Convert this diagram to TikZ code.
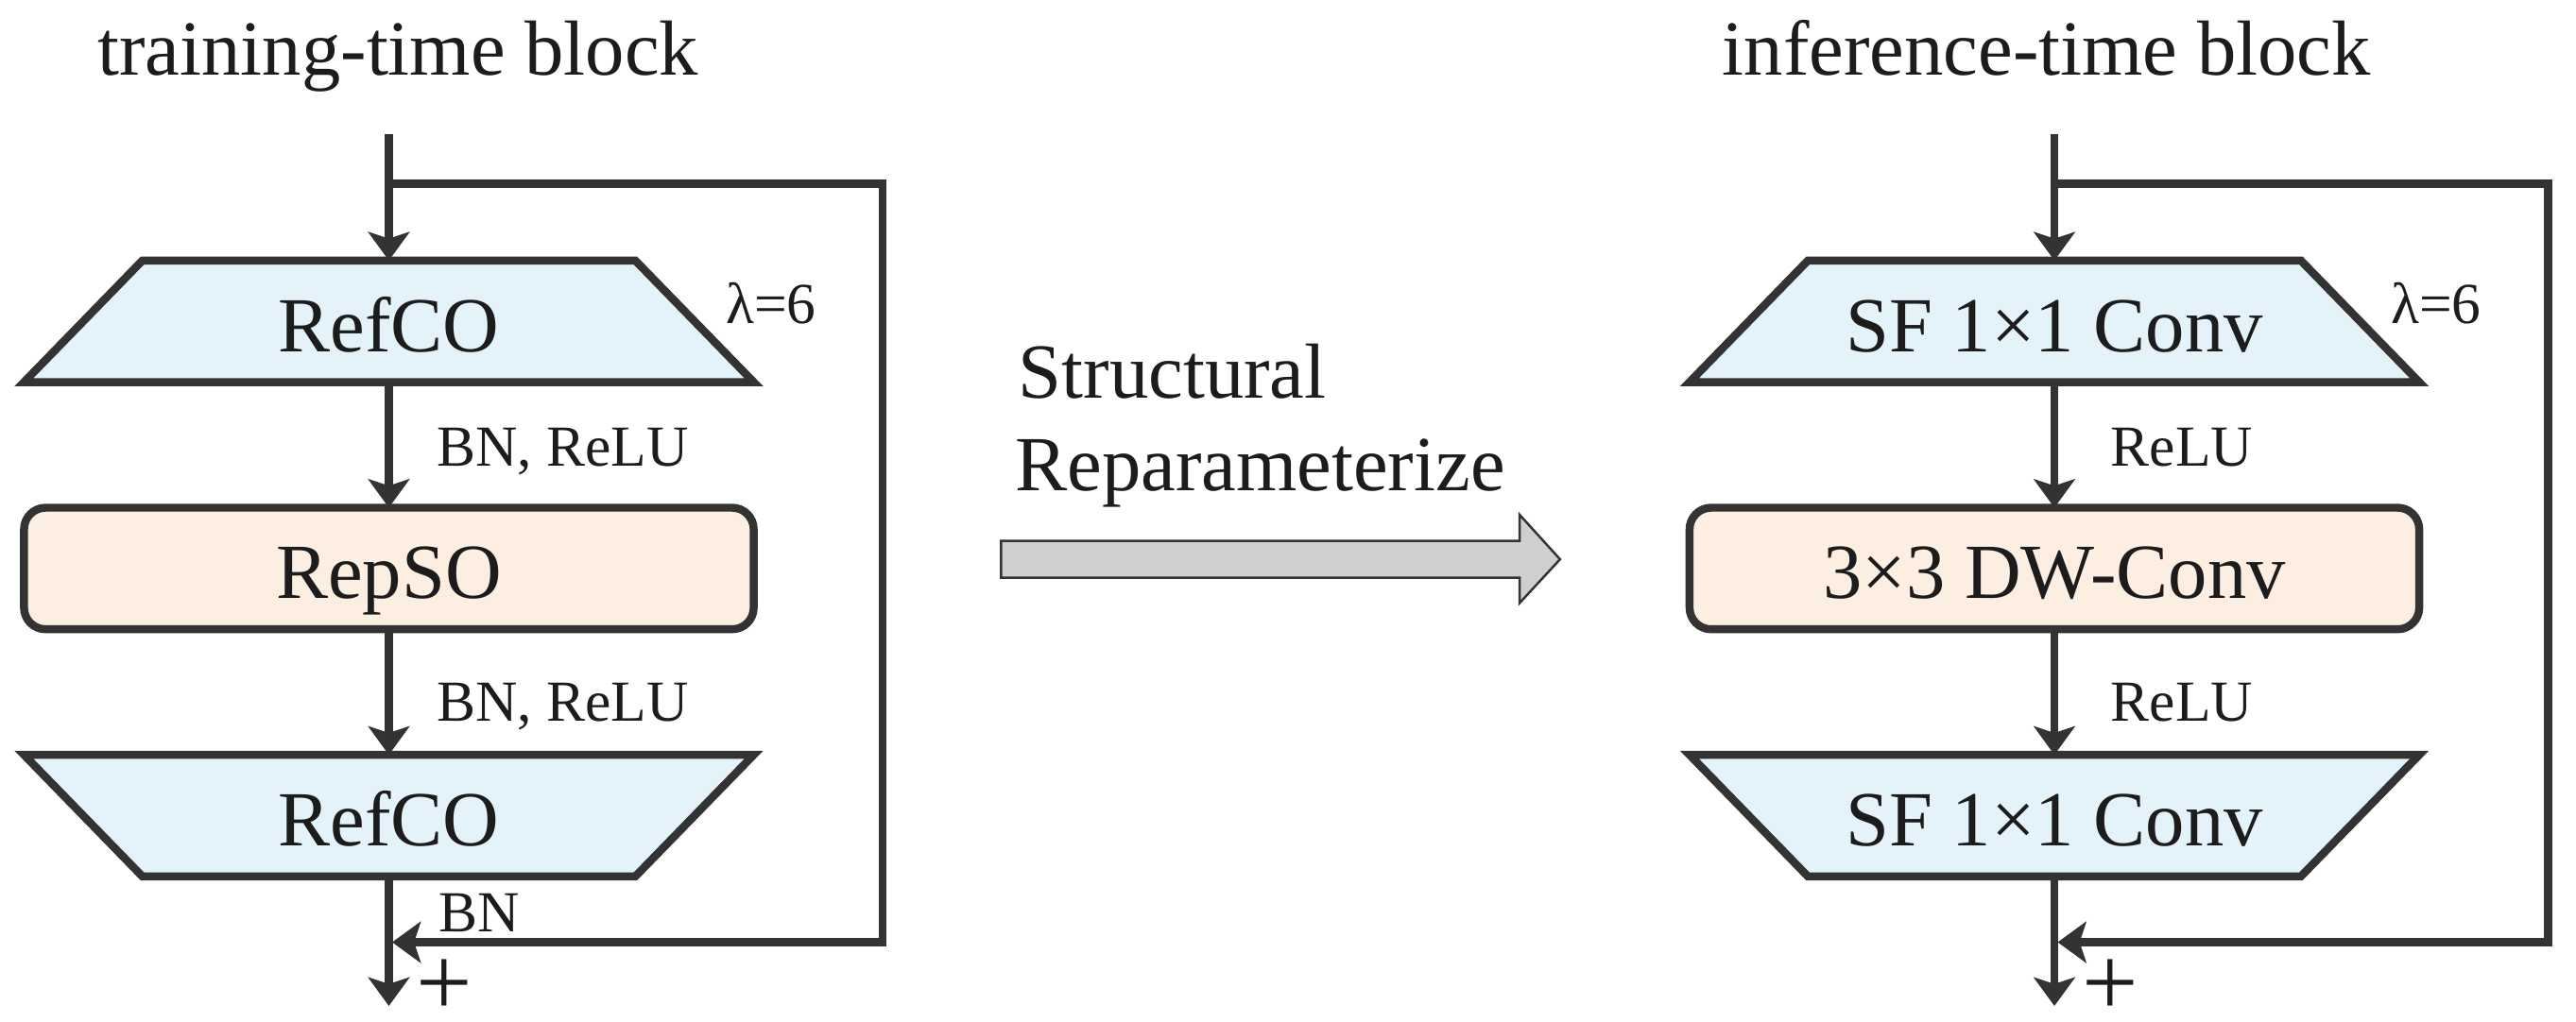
\documentclass[tikz,border=0pt]{standalone}
\usepackage{fontspec}
\setmainfont{Liberation Serif}
\usetikzlibrary{arrows.meta,backgrounds}
\definecolor{dk}{HTML}{333333}
\definecolor{txt}{HTML}{1C1C1C}
\definecolor{bluefill}{HTML}{E4F2F9}
\definecolor{peachfill}{HTML}{FCEFE2}
\definecolor{grayfill}{HTML}{CDD0CF}
\tikzset{
  ln/.style={line width=2.4pt, draw=dk},
  conn/.style={ln, -{Stealth[length=8.6pt, width=12.4pt, inset=2pt]}},
  hold/.style={minimum width=7.7190cm, minimum height=1.2865cm, inner sep=0pt, outer sep=0pt,
    text height=18.1pt, text depth=0pt, text=txt, font=\fontsize{23.5pt}{28pt}\selectfont},
  bigtxt/.style={inner sep=0pt, text=txt, font=\fontsize{23.5pt}{28pt}\selectfont},
  lab/.style={inner sep=0pt, anchor=base west, text=txt, font=\fontsize{17.5pt}{21pt}\selectfont},
  plustxt/.style={inner sep=0pt, anchor=base, text height=14pt, text depth=0pt, text=txt,
    font=\fontsize{30pt}{34pt}\selectfont},
}
\newcommand\trapdown[1]{%
  \draw[ln, fill=bluefill] (#1.south west) -- (#1.south east)
    -- ([xshift=-1.2517cm]#1.north east) -- ([xshift=1.2517cm]#1.north west) -- cycle;}
\newcommand\trapup[1]{%
  \draw[ln, fill=bluefill] (#1.north west) -- (#1.north east)
    -- ([xshift=-1.2517cm]#1.south east) -- ([xshift=1.2517cm]#1.south west) -- cycle;}
\begin{document}
\begin{tikzpicture}[x=0.0173852cm, y=-0.0173852cm]
\useasboundingbox (0,0) rectangle (1568,622);

% titles
\node[bigtxt, anchor=base] (ttl1) at (242.3,45.6) {training-time block};
\node[bigtxt, anchor=base] (ttl2) at (1245.7,45.6) {inference-time block};

% ---------------- left block ----------------
\node[hold] (t1) at (236.7,195.7) {RefCO};
\node[hold, draw=dk, line width=2.4pt, fill=peachfill, rounded corners=6.5pt] (r1) at (236.7,346.2) {RepSO};
\node[hold] (t3) at (236.7,496.7) {RefCO};
\begin{scope}[on background layer]
  \trapdown{t1}
  \trapup{t3}
\end{scope}

\coordinate (in1) at (236.7,81.8);
\coordinate (s1) at (236.7,112);
\coordinate (k1) at (537.2,112);
\coordinate (k2) at (537.2,573.8);
\coordinate (j1) at (238.7,573.8);
\coordinate (out1) at (236.7,612.6);

\draw[conn] (in1) -- (t1.north);
\draw[conn] (t1.south) -- (r1.north);
\draw[conn] (r1.south) -- (t3.north);
\draw[conn] (t3.south) -- (out1);
\draw[conn] (s1) -- (k1) -- (k2) -- (j1);

\node[lab] (lam1) at (441.5,197) {λ=6};
\node[lab] (l1a) at (265.5,284) {BN, ReLU};
\node[lab] (l1b) at (265.5,439) {BN, ReLU};
\node[lab] (l1c) at (267,567.5) {BN};
\node[plustxt] (p1) at (270.7,618.5) {+};

% ---------------- middle ----------------
\node[bigtxt, anchor=base west] (m1) at (619.5,242.6) {Structural};
\node[bigtxt, anchor=base west] (m2) at (617.5,299) {Reparameterize};
\draw[line width=0.7pt, draw=dk, fill=grayfill]
  (609.4,329.4) -- (925,329.4) -- (925,313.5) -- (949.6,340.6)
  -- (925,367.2) -- (925,351.8) -- (609.4,351.8) -- cycle;

% ---------------- right block ----------------
\node[hold] (u1) at (1250.5,195.7) {SF 1×1 Conv};
\node[hold, draw=dk, line width=2.4pt, fill=peachfill, rounded corners=6.5pt] (v1) at (1250.5,346.2) {3×3 DW-Conv};
\node[hold] (u3) at (1250.5,496.7) {SF 1×1 Conv};
\begin{scope}[on background layer]
  \trapdown{u1}
  \trapup{u3}
\end{scope}

\coordinate (in2) at (1250.5,81.8);
\coordinate (s2) at (1250.5,112);
\coordinate (k3) at (1551,112);
\coordinate (k4) at (1551,573.8);
\coordinate (j2) at (1252.5,573.8);
\coordinate (out2) at (1250.5,612.6);

\draw[conn] (in2) -- (u1.north);
\draw[conn] (u1.south) -- (v1.north);
\draw[conn] (v1.south) -- (u3.north);
\draw[conn] (u3.south) -- (out2);
\draw[conn] (s2) -- (k3) -- (k4) -- (j2);

\node[lab] (lam2) at (1455,197) {λ=6};
\node[lab] (l2a) at (1284.5,284) {ReLU};
\node[lab] (l2b) at (1284.5,439) {ReLU};
\node[plustxt] (p2) at (1284.5,618.5) {+};
\end{tikzpicture}
\end{document}
